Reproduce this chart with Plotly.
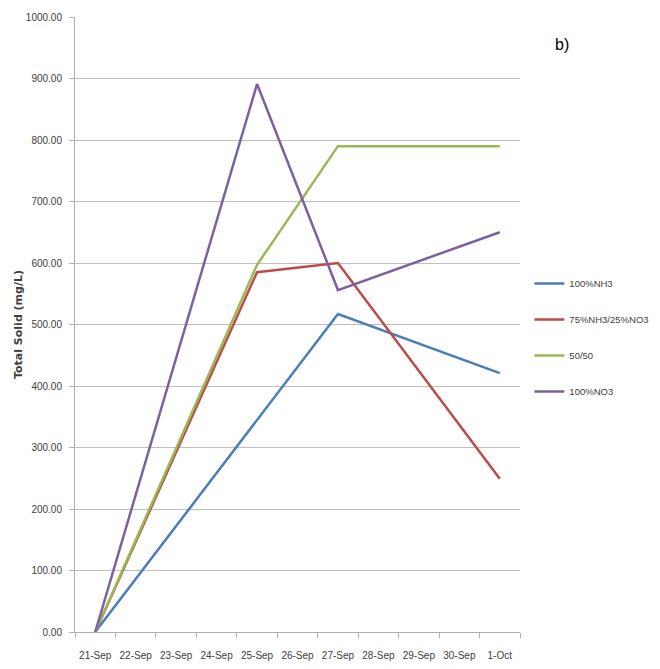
import plotly.graph_objects as go

dates = ["21-Sep", "22-Sep", "23-Sep", "24-Sep", "25-Sep", "26-Sep",
         "27-Sep", "28-Sep", "29-Sep", "30-Sep", "1-Oct"]

nh3_x = ["21-Sep", "27-Sep", "1-Oct"]
nh3_y = [0, 517, 421]

mix75_x = ["21-Sep", "25-Sep", "27-Sep", "1-Oct"]
mix75_y = [0, 585, 600, 249]

mix50_x = ["21-Sep", "25-Sep", "27-Sep", "1-Oct"]
mix50_y = [0, 597, 790, 790]

no3_x = ["21-Sep", "25-Sep", "27-Sep", "1-Oct"]
no3_y = [0, 891, 556, 650]

names = ["100%NH3", "75%NH3/25%NO3", "50/50", "100%NO3"]
colors = ["#4a7ebb", "#be4b48", "#98b954", "#7d60a0"]
yticks = [0, 100, 200, 300, 400, 500, 600, 700, 800, 900, 1000]

font_fam = "Liberation Sans, Arial, sans-serif"

fig = go.Figure()
for i, (xs, ys) in enumerate([(nh3_x, nh3_y), (mix75_x, mix75_y),
                              (mix50_x, mix50_y), (no3_x, no3_y)]):
    fig.add_trace(go.Scatter(x=xs, y=ys, mode="lines", name=names[i],
                             legendgroup=str(i),
                             line=dict(color=colors[i], width=2.5)))

fig.update_layout(
    width=660, height=669,
    margin=dict(l=67, r=148, t=9, b=45, autoexpand=False),
    paper_bgcolor="white", plot_bgcolor="white",
    font=dict(family=font_fam, size=10, color="#404040"),
    showlegend=True,
    legend=dict(x=1.021, y=0.479, xanchor="left", yanchor="middle",
                font=dict(size=9.5, color="#404040"),
                tracegroupgap=17, itemwidth=30),
    annotations=[dict(text="b)", x=1.075, y=0.955, xref="paper", yref="paper",
                      showarrow=False, font=dict(size=16, color="black",
                                                 family="Liberation Sans"),
                      xanchor="left", yanchor="middle")],
)
fig.update_xaxes(type="category", categoryorder="array", categoryarray=dates,
                 range=[-0.5, 10.5], showgrid=False, automargin=False,
                 showline=True, linecolor="#b0b0b0", linewidth=1,
                 ticks="outside", ticklen=5, tickcolor="#b0b0b0",
                 tickson="boundaries", tickangle=0, ticklabelstandoff=14,
                 tickfont=dict(size=10))
fig.update_yaxes(range=[0, 1000], tickvals=yticks, automargin=False,
                 ticktext=[f"{v:.2f}" for v in yticks],
                 showgrid=True, gridcolor="#bfbfbf", gridwidth=1,
                 showline=True, linecolor="#b0b0b0",
                 ticks="outside", ticklen=5, tickcolor="#b0b0b0",
                 zeroline=False, ticklabelstandoff=5, tickfont=dict(size=10),
                 title=dict(text="<b>Total Solid (mg/L)</b>",
                            font=dict(size=11, color="#404040",
                                      family="DejaVu Sans"), standoff=0))

fig.write_html("out.html")
